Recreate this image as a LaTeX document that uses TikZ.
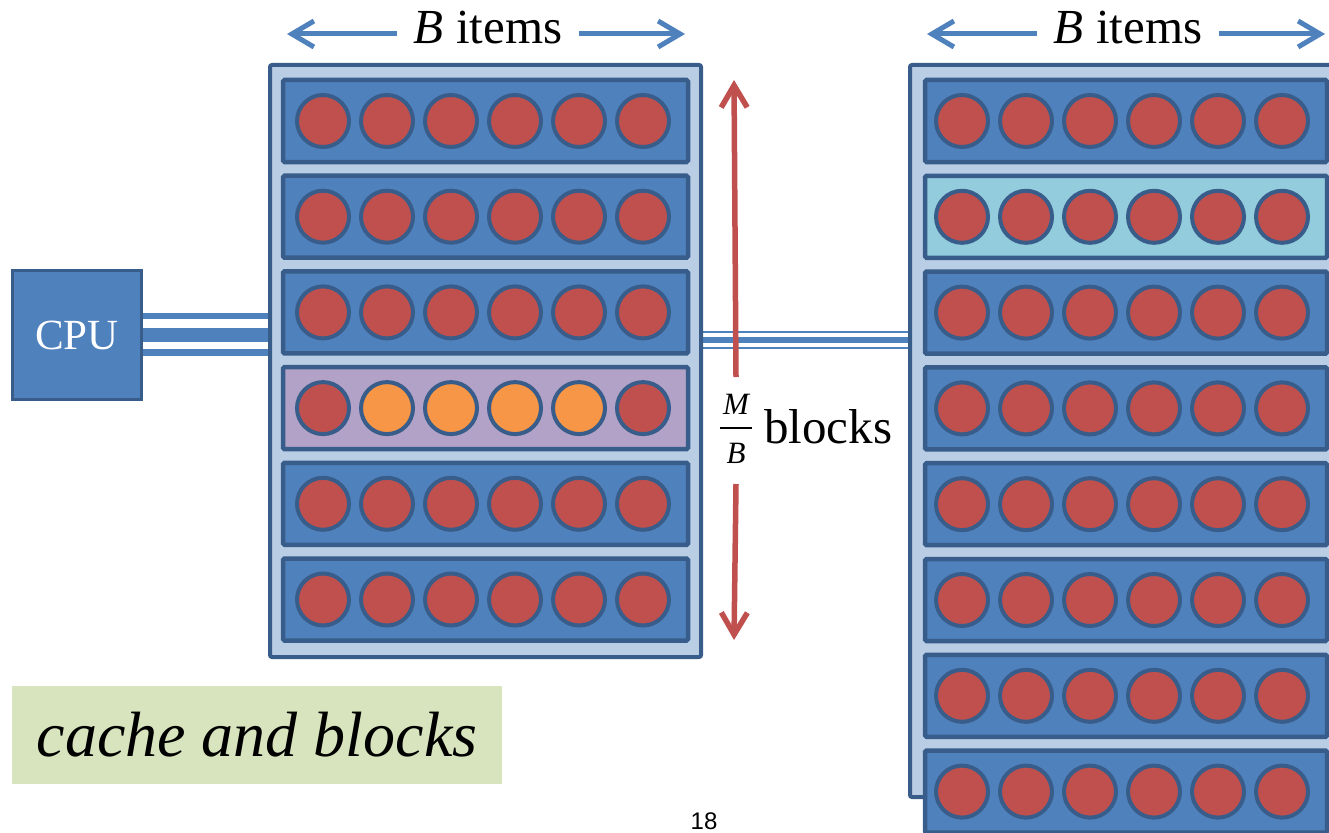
\documentclass[tikz,border=0pt]{standalone}
\usepackage{fontspec}
\setmainfont{Liberation Serif}
\newfontfamily\pagefont{Liberation Sans}
\usetikzlibrary{arrows.meta}
\pgfdeclarelayer{bg}
\pgfsetlayers{bg,main}
\definecolor{edge}{HTML}{385D8A}
\definecolor{blockfill}{HTML}{4F81BD}
\definecolor{cachefill}{HTML}{B9CDE5}
\definecolor{itemred}{HTML}{C0504D}
\definecolor{itemorange}{HTML}{F79646}
\definecolor{rowpurple}{HTML}{B3A2C7}
\definecolor{rowcyan}{HTML}{93CDDD}
\definecolor{tagfill}{HTML}{D7E4BD}
\tikzset{
  frame/.style={draw=edge, line width=4, fill=cachefill, rounded corners=2,
    inner sep=0, outer sep=0, anchor=north west},
  blockrow/.style={draw=edge, line width=4.5, fill=blockfill, rounded corners=1.5,
    inner sep=0, outer sep=0, minimum height=82, anchor=north west},
  item/.style={circle, draw=edge, line width=4, fill=itemred, minimum size=52,
    inner sep=0},
  bus/.style={draw=blockfill},
  widtharrow/.style={draw=blockfill, line width=5,
    -{Straight Barb[length=22pt,width=26pt]}},
  heightarrow/.style={draw=itemred, line width=5.5,
    -{Straight Barb[length=22pt,width=26pt]}},
  bigtext/.style={font=\fontsize{49}{54}\selectfont},
  widthtext/.style={bigtext, inner xsep=17, inner ysep=0},
}
\begin{document}
\begin{tikzpicture}[x=1pt,y=-1pt]
\useasboundingbox (0,0) rectangle (1329,832);
\begin{scope}
\clip (0,0) rectangle (1329,832);

% processor
\node[draw=edge, line width=3, fill=blockfill, minimum width=129, minimum height=129,
  inner sep=0, outer sep=0, text=white, font=\fontsize{43}{46}\selectfont]
  (cpu) at (77,335) {CPU};

% cache with its six blocks
\node[frame, minimum width=431, minimum height=592] (cache) at (270,65) {};
\foreach \i/\rf in {0/blockfill,1/blockfill,2/blockfill,3/rowpurple,4/blockfill,5/blockfill} {
  \node[blockrow, fill=\rf, minimum width=405] (c\i) at (283,80+95.7*\i) {};
  \foreach \j in {0,...,5} {
    \pgfmathtruncatemacro\hot{(\i==3)&&(\j>0)&&(\j<5)}
    \ifnum\hot=1 \def\cf{itemorange}\else\def\cf{itemred}\fi
    \node[item, fill=\cf] (c\i-\j) at (323+64*\j,121+95.7*\i) {};
  }
}

% main memory with its blocks
\node[frame, minimum width=530, minimum height=732] (mem) at (910,65) {};
\foreach \i/\rf in {0/blockfill,1/rowcyan,2/blockfill,3/blockfill,4/blockfill,5/blockfill,6/blockfill,7/blockfill} {
  \node[blockrow, fill=\rf, minimum width=402] (m\i) at (925,80+95.8*\i) {};
  \foreach \j in {0,...,5}
    \node[item] (m\i-\j) at (962+64*\j,121+95.8*\i) {};
}

% buses
\begin{pgfonlayer}{bg}
\foreach \yy/\w in {316/6, 335/14, 352.5/7}
  \draw[bus, line width=\w] (cpu.east |- 0,\yy) -- (cache.west |- 0,\yy);
\foreach \yy/\w in {332/2.5, 340/6, 348/2.5}
  \draw[bus, line width=\w] (cache.east |- 0,\yy) -- (mem.west |- 0,\yy);
\end{pgfonlayer}

% block width labels
\node[widthtext, anchor=base] (wc) at (488,44) {\textit{B} items};
\coordinate (wcl) at (287,34);
\coordinate (wcr) at (685,34);
\draw[widtharrow] (wc.west |- wcl) -- (wcl);
\draw[widtharrow] (wc.east |- wcr) -- (wcr);

\node[widthtext, anchor=base] (wm) at (1128,44) {\textit{B} items};
\coordinate (wml) at (927,34);
\coordinate (wmr) at (1325,34);
\draw[widtharrow] (wm.west |- wml) -- (wml);
\draw[widtharrow] (wm.east |- wmr) -- (wmr);

% number of blocks in the cache
\node[font=\itshape\fontsize{31}{32}\selectfont] (fm) at (736,404) {M};
\node[font=\itshape\fontsize{31}{32}\selectfont] (fb) at (736,453) {B};
\draw[line width=1.6] (720,428) -- (752,428);
\node[bigtext, anchor=base west, inner sep=0] (blk) at (764,443) {blocks};
\coordinate (ht) at (734,80);
\coordinate (hb) at (734,640);
\draw[heightarrow] (fm.north |- 0,377) -- (ht);
\draw[heightarrow] (fb.south |- 0,484) -- (hb);

% caption
\node[fill=tagfill, minimum width=490, minimum height=98, inner sep=0,
  font=\itshape\fontsize{64}{70}\selectfont] (tag) at (257,735) {cache and blocks};

% page number
\node[font=\pagefont\fontsize{24}{24}\selectfont, anchor=base, inner sep=0] (pg) at (704,829) {18};
\end{scope}
\end{tikzpicture}
\end{document}
